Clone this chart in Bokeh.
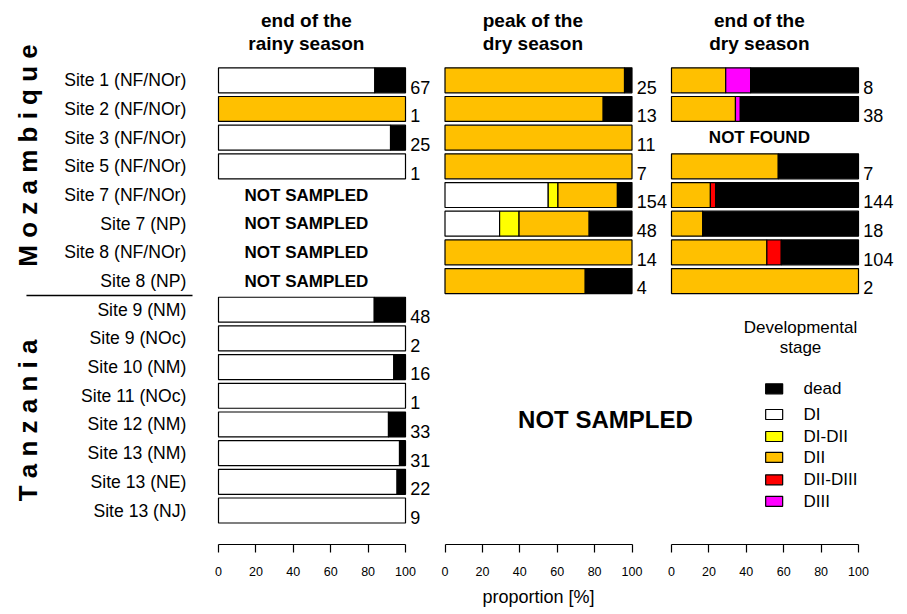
import math
import numpy as np
from bokeh.plotting import figure
from bokeh.models import Range1d, ColumnDataSource, FixedTicker
from bokeh.layouts import column, row
from bokeh.embed import file_html
from bokeh.resources import INLINE
from bokeh.core.properties import value

# ---------------- data ----------------
sites = ["Site 1 (NF/NOr)", "Site 2 (NF/NOr)", "Site 3 (NF/NOr)", "Site 5 (NF/NOr)",
         "Site 7 (NF/NOr)", "Site 7 (NP)", "Site 8 (NF/NOr)", "Site 8 (NP)",
         "Site 9 (NM)", "Site 9 (NOc)", "Site 10 (NM)", "Site 11 (NOc)",
         "Site 12 (NM)", "Site 13 (NM)", "Site 13 (NE)", "Site 13 (NJ)"]
countries = ["M o z a m b i q u e", "T a n z a n i a"]
panel_titles = [("end of the", "rainy season"), ("peak of the", "dry season"), ("end of the", "dry season")]
stages = ["dead", "DI", "DI-DII", "DII", "DII-DIII", "DIII"]
stage_colors = ["#000000", "#FFFFFF", "#FFFF00", "#FFC000", "#FF0000", "#FF00FF"]
bar_order = ["DI", "DI-DII", "DII", "DII-DIII", "DIII", "dead"]

# end of the rainy season (16 rows, None = not sampled), proportions [%]
rainy_DI   = [83.6, 0, 92.0, 100, None, None, None, None, 83.3, 100, 93.75, 100, 90.9, 96.8, 95.5, 100]
rainy_DII  = [0, 100, 0, 0, None, None, None, None, 0, 0, 0, 0, 0, 0, 0, 0]
rainy_dead = [16.4, 0, 8.0, 0, None, None, None, None, 16.7, 0, 6.25, 0, 9.1, 3.2, 4.5, 0]
rainy_n    = [67, 1, 25, 1, None, None, None, None, 48, 2, 16, 1, 33, 31, 22, 9]

# peak of the dry season (Mozambique rows only)
peak_DI    = [0, 0, 0, 0, 55.2, 29.2, 0, 0]
peak_DIDII = [0, 0, 0, 0, 5.2, 10.4, 0, 0]
peak_DII   = [96.0, 84.6, 100, 100, 31.8, 37.5, 100, 75.0]
peak_dead  = [4.0, 15.4, 0, 0, 7.8, 22.9, 0, 25.0]
peak_n     = [25, 13, 11, 7, 154, 48, 14, 4]

# end of the dry season (None = not found)
enddry_DII     = [29.0, 34.2, None, 57.1, 20.8, 16.7, 51.0, 100]
enddry_DIIDIII = [0, 0, None, 0, 2.8, 0, 7.7, 0]
enddry_DIII    = [13.3, 2.6, None, 0, 0, 0, 0, 0]
enddry_dead    = [57.7, 63.2, None, 42.9, 76.4, 83.3, 41.3, 0]
enddry_n       = [8, 38, None, 7, 144, 18, 104, 2]

ticks = [0, 20, 40, 60, 80, 100]

# ---------------- layout constants ----------------
FONT = "Liberation Sans"
PX = 1.87                       # pixels per percent
W, H = 905, 542                 # top figure size
ORIG = [218.0, 444.5, 671.0]    # frame x of 0 % in each panel
ROW = 28.68                     # pixels per row
ROW0 = 79.8                     # frame y of first row centre
BAR_H = 0.87

color_of = dict(zip(stages, stage_colors))

def prange(k, left=0.0, right=W):
    return Range1d(start=(left - ORIG[k]) / PX, end=(right - ORIG[k]) / PX)

p = figure(width=W, height=H, x_range=prange(0),
           y_range=Range1d(start=(H - ROW0) / ROW, end=-ROW0 / ROW),
           output_backend="svg", toolbar_location=None, min_border=0,
           x_axis_location=None, y_axis_location=None, outline_line_color=None)
p.extra_x_ranges = {"p2": prange(1), "p3": prange(2)}
p.grid.visible = False
rnames = ["default", "p2", "p3"]

def add_panel(k, stage_data, counts, missing_text):
    ys, lefts, rights, cols = [], [], [], []
    ny, nx, nt = [], [], []
    my = []
    nrows = len(counts)
    for i in range(nrows):
        if counts[i] is None:
            my.append(i)
            continue
        acc = 0.0
        for st in bar_order:
            if st not in stage_data:
                continue
            v = stage_data[st][i]
            if v and v > 0:
                ys.append(i); lefts.append(acc); rights.append(acc + v); cols.append(color_of[st])
                acc += v
        ny.append(i + 0.24); nx.append(102.6); nt.append(str(counts[i]))
    src = ColumnDataSource(dict(y=ys, left=lefts, right=rights, color=cols))
    p.hbar(y="y", left="left", right="right", height=BAR_H, fill_color="color",
           line_color="black", line_width=1.2, source=src, x_range_name=rnames[k])
    p.text(x=nx, y=ny, text=nt, text_align="left", text_baseline="middle",
           text_font=value(FONT), text_font_size="18px", text_color="black",
           x_range_name=rnames[k])
    if my and missing_text:
        p.text(x=[47] * len(my), y=my, text=[missing_text] * len(my), text_align="center",
               text_baseline="middle", text_font=value(FONT), text_font_size="17px",
               text_font_style="bold", text_color="black", x_range_name=rnames[k])
    t1, t2 = panel_titles[k]
    p.text(x=[47, 47], y=[-2.085, -1.267], text=[t1, t2], text_align="center",
           text_baseline="middle", text_font=value(FONT), text_font_size="19px",
           text_font_style="bold", text_color="black", x_range_name=rnames[k])

add_panel(0, {"DI": rainy_DI, "DII": rainy_DII, "dead": rainy_dead}, rainy_n, "NOT SAMPLED")
add_panel(1, {"DI": peak_DI, "DI-DII": peak_DIDII, "DII": peak_DII, "dead": peak_dead}, peak_n, None)
add_panel(2, {"DII": enddry_DII, "DII-DIII": enddry_DIIDIII, "DIII": enddry_DIII, "dead": enddry_dead},
          enddry_n, "NOT FOUND")

# site labels
p.text(x=[-17.2] * len(sites), y=list(range(len(sites))), text=sites, text_align="right",
       text_baseline="middle", text_font=value(FONT), text_font_size="17.6px", text_color="black")
# country labels
p.text(x=[-102.1, -102.1], y=[2.62, 11.86], text=countries, angle=math.pi / 2,
       text_align="center", text_baseline="middle", text_font=value(FONT),
       text_font_size="26px", text_font_style="bold", text_color="black")
p.segment(x0=[-102.7], x1=[-13.9], y0=[7.5], y1=[7.5], line_color="black", line_width=1.5)

# big not sampled
p.text(x=[85.8], y=[11.83], text=["NOT SAMPLED"], text_align="center", text_baseline="middle",
       text_font=value(FONT), text_font_size="24px", text_font_style="bold",
       text_color="black", x_range_name="p2")

# legend
p.text(x=[69, 69], y=[8.61, 9.31], text=["Developmental", "stage"], text_align="center",
       text_baseline="middle", text_font=value(FONT), text_font_size="17px",
       text_color="black", x_range_name="p3")
leg_y = [10.757, 11.653, 12.42, 13.15, 13.93, 14.68]
p.rect(x=[54.9] * len(stages), y=leg_y, width=17, height=10, width_units="screen",
       height_units="screen", fill_color=stage_colors, line_color="black", line_width=1.2,
       x_range_name="p3")
p.text(x=[70.6] * len(stages), y=leg_y, text=stages, text_align="left", text_baseline="middle",
       text_font=value(FONT), text_font_size="17px", text_color="black", x_range_name="p3")

# ---------------- bottom axes ----------------
bounds_px = [(0, 430), (430, 646), (646, W)]
axes_figs = []
for k, (l, r) in enumerate(bounds_px):
    b = figure(frame_width=r - l, frame_height=2,
               x_range=prange(k, l, r), y_range=Range1d(0, 1),
               output_backend="svg", toolbar_location=None, min_border=0,
               y_axis_location=None, outline_line_color=None)
    b.grid.visible = False
    ax = b.xaxis[0]
    ax.bounds = (0, 100)
    ax.ticker = FixedTicker(ticks=ticks)
    ax.minor_tick_line_color = None
    ax.major_tick_in = 0
    ax.major_tick_out = 8
    ax.axis_line_width = 1.2
    ax.major_tick_line_width = 1.2
    ax.major_label_standoff = 14
    ax.major_label_text_font = FONT
    ax.major_label_text_font_size = "12.5px"
    ax.major_label_text_color = "black"
    if k == 1:
        ax.axis_label = "proportion [%]"
        ax.axis_label_text_font = FONT
        ax.axis_label_text_font_size = "18px"
        ax.axis_label_text_font_style = "normal"
        ax.axis_label_text_color = "black"
        ax.axis_label_standoff = 8
    axes_figs.append(b)

layout = column(p, row(*axes_figs))
open("out.html", "w").write(file_html(layout, INLINE))
